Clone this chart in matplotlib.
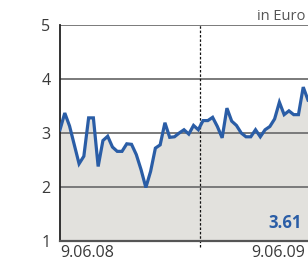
import matplotlib
matplotlib.use("Agg")
import matplotlib.pyplot as plt
import matplotlib.transforms as mtransforms
import pandas as pd

plt.rcParams['font.family'] = ['Open Sans', 'DejaVu Sans']

prices = [3.06, 3.37, 3.13, 2.78, 2.43, 2.57, 3.28, 3.28, 2.38, 2.86,
          2.94, 2.74, 2.66, 2.66, 2.80, 2.79, 2.60, 2.32, 1.99, 2.29,
          2.72, 2.78, 3.19, 2.92, 2.93, 3.00, 3.06, 2.98, 3.14, 3.06,
          3.23, 3.23, 3.29, 3.12, 2.91, 3.46, 3.22, 3.14, 3.00, 2.93,
          2.93, 3.06, 2.93, 3.06, 3.12, 3.26, 3.57, 3.34, 3.41, 3.34,
          3.34, 3.85, 3.61]
dates = pd.date_range('2008-06-09', periods=len(prices), freq='7D')
year_mark = pd.Timestamp('2009-01-01')
y_ticks = [1, 2, 3, 4, 5]
x_labels = ['9.06.08', '9.06.09']
unit_label = 'in Euro'
last_label = '3.61'

blue = '#2a5da6'
grid_c = '#7a7a7a'
fill_c = '#e2e1dd'
text_c = '#3a3a3a'

fig = plt.figure(figsize=(3.08, 2.64), dpi=100)
ax = fig.add_axes([60/308, 23/264, 248/308, 216/264])

ax.fill_between(dates, 1, prices, color=fill_c, lw=0, zorder=1)
for y in y_ticks[1:]:
    ax.axhline(y, color=grid_c, lw=1.4, zorder=2)
ax.plot(dates, prices, color=blue, lw=2.3, zorder=4, solid_joinstyle='miter')
ax.axvline(year_mark, ymin=-0.03, ymax=1, color='#111111', lw=0.9,
           ls=(0, (2, 1.5)), zorder=3, clip_on=False)

ax.set_xlim(dates[0], dates[-1])
ax.set_ylim(1, 5)
ax.set_yticks(y_ticks)
ax.set_yticklabels([str(v) for v in y_ticks])
ax.set_xticks([dates[0], dates[-1]])
ax.set_xticklabels(x_labels)

ax.tick_params(axis='y', length=0, pad=7, labelsize=11.5, labelcolor=text_c)
ax.tick_params(axis='x', length=0, pad=3, labelsize=11.5, labelcolor=text_c)

labs = ax.get_xticklabels()
labs[0].set_ha('left')
labs[1].set_ha('right')
shift = mtransforms.ScaledTranslation(-3/100, 0, fig.dpi_scale_trans)
labs[1].set_transform(labs[1].get_transform() + shift)

for s in ['top', 'right']:
    ax.spines[s].set_visible(False)
ax.spines['left'].set_color('#222222')
ax.spines['left'].set_linewidth(1.3)
ax.spines['bottom'].set_color('#555555')
ax.spines['bottom'].set_linewidth(1.6)
ax.spines['bottom'].set_zorder(5)

fig.text(305/308, 1 - 17/264, unit_label, ha='right', va='center',
         fontsize=10.5, color='#555555')
ax.text(0.975, 1.33, last_label, transform=ax.get_yaxis_transform(),
        ha='right', va='center', fontsize=12, fontweight='bold', color=blue, zorder=6)

fig.savefig('out.png', dpi=100)
